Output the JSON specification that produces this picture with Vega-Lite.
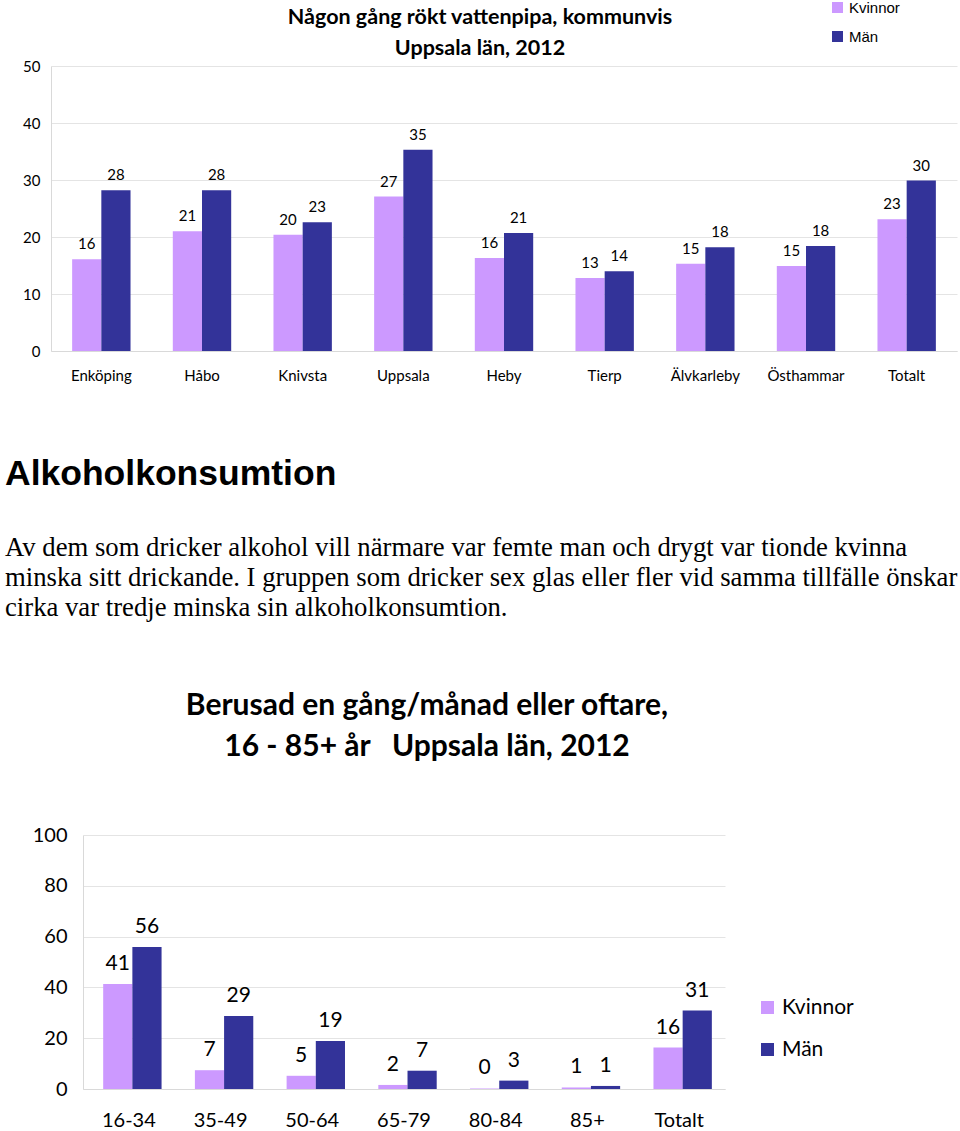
{
  "$schema": "https://vega.github.io/schema/vega-lite/v6.json",
  "padding": 0,
  "background": "white",
  "spacing": 73,
  "config": {"view": {"stroke": null}, "font": "Lato"},
  "resolve": {"scale": {"color": "independent"}, "legend": {"color": "independent"}},
  "datasets": {
    "vatten": [
      {"kommun": "Enköping", "kon": "Kvinnor", "andel": 16.1},
      {"kommun": "Enköping", "kon": "Män", "andel": 28.2},
      {"kommun": "Håbo", "kon": "Kvinnor", "andel": 21.0},
      {"kommun": "Håbo", "kon": "Män", "andel": 28.2},
      {"kommun": "Knivsta", "kon": "Kvinnor", "andel": 20.4},
      {"kommun": "Knivsta", "kon": "Män", "andel": 22.6},
      {"kommun": "Uppsala", "kon": "Kvinnor", "andel": 27.1},
      {"kommun": "Uppsala", "kon": "Män", "andel": 35.3},
      {"kommun": "Heby", "kon": "Kvinnor", "andel": 16.3},
      {"kommun": "Heby", "kon": "Män", "andel": 20.7},
      {"kommun": "Tierp", "kon": "Kvinnor", "andel": 12.8},
      {"kommun": "Tierp", "kon": "Män", "andel": 14.0},
      {"kommun": "Älvkarleby", "kon": "Kvinnor", "andel": 15.3},
      {"kommun": "Älvkarleby", "kon": "Män", "andel": 18.2},
      {"kommun": "Östhammar", "kon": "Kvinnor", "andel": 14.9},
      {"kommun": "Östhammar", "kon": "Män", "andel": 18.4},
      {"kommun": "Totalt", "kon": "Kvinnor", "andel": 23.1},
      {"kommun": "Totalt", "kon": "Män", "andel": 29.9}
    ],
    "berusad": [
      {"alder": "16-34", "kon": "Kvinnor", "andel": 41.3},
      {"alder": "16-34", "kon": "Män", "andel": 55.9},
      {"alder": "35-49", "kon": "Kvinnor", "andel": 7.4},
      {"alder": "35-49", "kon": "Män", "andel": 28.7},
      {"alder": "50-64", "kon": "Kvinnor", "andel": 5.2},
      {"alder": "50-64", "kon": "Män", "andel": 18.9},
      {"alder": "65-79", "kon": "Kvinnor", "andel": 1.6},
      {"alder": "65-79", "kon": "Män", "andel": 7.2},
      {"alder": "80-84", "kon": "Kvinnor", "andel": 0.2},
      {"alder": "80-84", "kon": "Män", "andel": 3.3},
      {"alder": "85+", "kon": "Kvinnor", "andel": 0.6},
      {"alder": "85+", "kon": "Män", "andel": 1.2},
      {"alder": "Totalt", "kon": "Kvinnor", "andel": 16.3},
      {"alder": "Totalt", "kon": "Män", "andel": 30.9}
    ]
  },
  "vconcat": [
    {
      "width": 906,
      "height": 285,
      "title": {
        "text": ["Någon gång rökt vattenpipa, kommunvis", "Uppsala län, 2012"],
        "font": "Lato", "fontSize": 21.5, "fontWeight": "bold", "lineHeight": 31,
        "anchor": "middle", "frame": "group", "dx": -24, "offset": -59, "color": "black"
      },
      "data": {"name": "vatten"},
      "encoding": {
        "x": {
          "field": "kommun", "type": "nominal",
          "sort": ["Enköping", "Håbo", "Knivsta", "Uppsala", "Heby", "Tierp", "Älvkarleby", "Östhammar", "Totalt"],
          "scale": {"paddingInner": 0.42, "paddingOuter": 0.21},
          "axis": {"title": null, "labelAngle": 0, "ticks": false, "domainColor": "#D9D9D9", "labelFont": "Lato", "labelFontSize": 15, "labelColor": "black", "labelPadding": 17}
        },
        "xOffset": {"field": "kon", "sort": ["Kvinnor", "Män"]},
        "y": {
          "field": "andel", "type": "quantitative",
          "scale": {"domain": [0, 50]},
          "axis": {"title": null, "values": [0, 10, 20, 30, 40, 50], "ticks": false, "domainColor": "#D9D9D9", "gridColor": "#E4E4E4", "labelFont": "Lato", "labelFontSize": 15, "labelColor": "black", "labelPadding": 11, "minExtent": 51}
        }
      },
      "layer": [
        {
          "mark": {"type": "bar"},
          "encoding": {
            "color": {
              "field": "kon", "type": "nominal",
              "scale": {"domain": ["Kvinnor", "Män"], "range": ["#CC99FF", "#333399"]},
              "legend": {"title": null, "orient": "none", "legendX": 779, "legendY": -66, "symbolType": "square", "symbolSize": 121, "symbolStrokeWidth": 0, "labelFont": "Liberation Sans", "labelFontSize": 15, "labelColor": "black", "rowPadding": 13}
            }
          }
        },
        {
          "mark": {"type": "text", "baseline": "bottom", "dy": -7, "fontSize": 15, "font": "Lato", "color": "black"},
          "encoding": {"text": {"field": "andel", "type": "quantitative", "format": ".0f"}}
        }
      ]
    },
    {
      "title": {
        "text": "Alkoholkonsumtion",
        "font": "Liberation Sans", "fontSize": 35.5, "fontWeight": "bold", "color": "black",
        "anchor": "start", "frame": "group", "dx": -46, "offset": 69,
        "subtitle": [
          "Av dem som dricker alkohol vill närmare var femte man och drygt var tionde kvinna",
          "minska sitt drickande. I gruppen som dricker sex glas eller fler vid samma tillfälle önskar",
          "cirka var tredje minska sin alkoholkonsumtion."
        ],
        "subtitleFont": "Liberation Serif", "subtitleFontSize": 26.7, "subtitleLineHeight": 30, "subtitlePadding": 43, "subtitleColor": "black"
      },
      "vconcat": [
        {
          "width": 674,
          "height": 254,
          "title": {
            "text": ["Berusad en gång/månad eller oftare,", "16 - 85+ år\u00a0\u00a0\u00a0Uppsala län, 2012"],
            "font": "Lato", "fontSize": 30, "fontWeight": "bold", "lineHeight": 41,
            "anchor": "middle", "frame": "group", "dx": 39, "offset": 63, "color": "black"
          },
          "data": {"name": "berusad"},
          "encoding": {
            "x": {
              "field": "alder", "type": "nominal",
              "sort": ["16-34", "35-49", "50-64", "65-79", "80-84", "85+", "Totalt"],
              "scale": {"range": [32, 674], "paddingInner": 0.44, "paddingOuter": 0.22},
              "axis": {"title": null, "labelAngle": 0, "ticks": false, "domainColor": "#D9D9D9", "labelFont": "Lato", "labelFontSize": 20, "labelColor": "black", "labelPadding": 21}
            },
            "xOffset": {"field": "kon", "sort": ["Kvinnor", "Män"]},
            "y": {
              "field": "andel", "type": "quantitative",
              "scale": {"domain": [0, 100]},
              "axis": {"title": null, "values": [0, 20, 40, 60, 80, 100], "ticks": false, "offset": -32, "domainColor": "#D9D9D9", "gridColor": "#E4E4E4", "labelFont": "Lato", "labelFontSize": 20, "labelColor": "black", "labelPadding": 16}
            }
          },
          "layer": [
            {
              "mark": {"type": "bar"},
              "encoding": {
                "color": {
                  "field": "kon", "type": "nominal",
                  "scale": {"domain": ["Kvinnor", "Män"], "range": ["#CC99FF", "#333399"]},
                  "legend": {"title": null, "orient": "none", "legendX": 706, "legendY": 162, "symbolType": "square", "symbolSize": 169, "symbolStrokeWidth": 0, "labelFont": "Lato", "labelFontSize": 21, "labelColor": "black", "rowPadding": 20}
                }
              }
            },
            {
              "mark": {"type": "text", "baseline": "bottom", "dy": -10, "fontSize": 21, "font": "Lato", "color": "black"},
              "encoding": {"text": {"field": "andel", "type": "quantitative", "format": ".0f"}}
            }
          ]
        }
      ]
    }
  ]
}
